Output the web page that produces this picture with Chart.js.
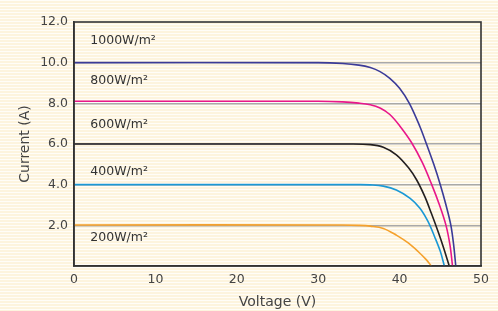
<!DOCTYPE html>
<html>
<head>
<meta charset="utf-8">
<script src="https://cdn.jsdelivr.net/npm/chart.js@4.4.0/dist/chart.umd.min.js"></script>
<style>
html,body{margin:0;padding:0;}
body{width:498px;height:311px;overflow:hidden;
background:repeating-linear-gradient(to bottom,#fffdf8 0px,#fffdf8 1.5px,#fdf4de 1.5px,#fdf4de 3px);}
#wrap{position:relative;width:498px;height:311px;}
</style>
</head>
<body>
<div id="wrap"><canvas id="c" width="498" height="311"></canvas></div>
<script>
// Data (Voltage V, Current A)
const seriesNames = ['1000W/m²','800W/m²','600W/m²','400W/m²','200W/m²'];
const v1000 = [0, 30, 33, 35, 36.4, 37.6, 38.8, 40.0, 41.2, 42.5, 43.3, 44.2, 45.0, 45.7, 46.3, 46.65, 46.9];
const i1000 = [10.0, 10.0, 9.96, 9.88, 9.76, 9.56, 9.23, 8.74, 8.0, 6.85, 6.0, 5.0, 4.0, 3.0, 2.0, 1.0, 0];
const v800 = [0, 30, 33, 35, 36.4, 37.6, 38.8, 40.0, 41.5, 42.8, 43.9, 44.9, 45.7, 46.2, 46.5];
const i800 = [8.1, 8.1, 8.07, 8.01, 7.93, 7.77, 7.45, 6.9, 6.05, 5.08, 4.05, 3.0, 2.0, 1.0, 0];
const v600 = [0, 34, 36.4, 38.0, 39.6, 41.1, 42.1, 43.1, 43.9, 44.8, 45.4, 46.1];
const i600 = [6.0, 6.0, 5.97, 5.84, 5.47, 4.83, 4.23, 3.41, 2.59, 1.61, 0.9, 0];
const v400 = [0, 35, 36.4, 38.0, 39.6, 41.3, 42.5, 43.5, 44.3, 45.0, 45.5];
const i400 = [4.0, 4.0, 3.99, 3.93, 3.74, 3.33, 2.84, 2.18, 1.44, 0.72, 0];
const v200 = [0, 33, 35, 36.4, 38.0, 39.6, 41.1, 42.3, 43.3, 43.9];
const i200 = [2.02, 2.02, 2.0, 1.96, 1.85, 1.52, 1.12, 0.70, 0.30, 0];
const xTickLabels = ['0','10','20','30','40','50'];
const yTickLabels = ['', '2.0', '4.0', '6.0', '8.0', '10.0', '12.0'];
// label anchors (V, A)
const labelV = [2.0, 2.0, 2.0, 2.0, 2.0];
const labelI = [11.1, 9.1, 6.95, 4.65, 1.4];

const colors = ['#3b3b98','#e8178a','#231f20','#1a98d5','#f5a12c'];
const vs = [v1000, v800, v600, v400, v200];
const is = [i1000, i800, i600, i400, i200];

const datasets = vs.map((v, k) => ({
  label: seriesNames[k],
  data: v.map((x, j) => ({x: x, y: is[k][j]})),
  borderColor: colors[k],
  borderWidth: 1.6,
  pointRadius: 0,
  fill: false,
  tension: 0.35
}));

const FONT = "'DejaVu Sans', sans-serif";

const decor = {
  id: 'decor',
  afterDatasetsDraw(chart) {
    const ctx = chart.ctx, a = chart.chartArea;
    const xs = chart.scales.x, ys = chart.scales.y;
    ctx.save();
    ctx.strokeStyle = '#333';
    ctx.lineWidth = 1.6;
    ctx.strokeRect(a.left, a.top, a.right - a.left, a.bottom - a.top);
    ctx.fillStyle = '#333';
    ctx.font = "12.5px " + FONT;
    ctx.textAlign = 'left';
    ctx.textBaseline = 'middle';
    seriesNames.forEach((t, k) => {
      ctx.fillText(t, xs.getPixelForValue(labelV[k]), ys.getPixelForValue(labelI[k]));
    });
    ctx.restore();
  }
};

new Chart(document.getElementById('c'), {
  type: 'line',
  data: { datasets },
  options: {
    responsive: false,
    animation: false,
    devicePixelRatio: 1,
    layout: { padding: { left: 15, right: 17, top: 22, bottom: 0 } },
    plugins: { legend: { display: false }, tooltip: { enabled: false } },
    scales: {
      x: {
        type: 'linear', min: 0, max: 50,
        ticks: { stepSize: 10, color: '#444', font: { family: FONT, size: 12.5 }, padding: 6,
          callback: (v, i) => xTickLabels[i] },
        grid: { display: false, drawTicks: false },
        border: { display: true, color: '#333', width: 1.6 },
        title: { display: true, text: 'Voltage (V)', color: '#444', font: { family: FONT, size: 14 }, padding: { top: 5, bottom: 0 } },
        afterFit: s => { s.height = 45; }
      },
      y: {
        type: 'linear', min: 0, max: 12,
        ticks: { stepSize: 2, color: '#444', font: { family: FONT, size: 12.5 }, padding: 6,
          callback: (v, i) => yTickLabels[i] },
        grid: { drawTicks: false, lineWidth: 1.5,
          color: c => (c.tick.value === 0 || c.tick.value === 12) ? 'rgba(0,0,0,0)' : '#a9a9a9' },
        border: { display: true, color: '#333', width: 1.6 },
        title: { display: true, text: 'Current (A)', color: '#444', font: { family: FONT, size: 14 }, padding: { top: 2, bottom: 6 } },
        afterFit: s => { s.width = 59; }
      }
    }
  },
  plugins: [decor]
});
</script>
</body>
</html>
